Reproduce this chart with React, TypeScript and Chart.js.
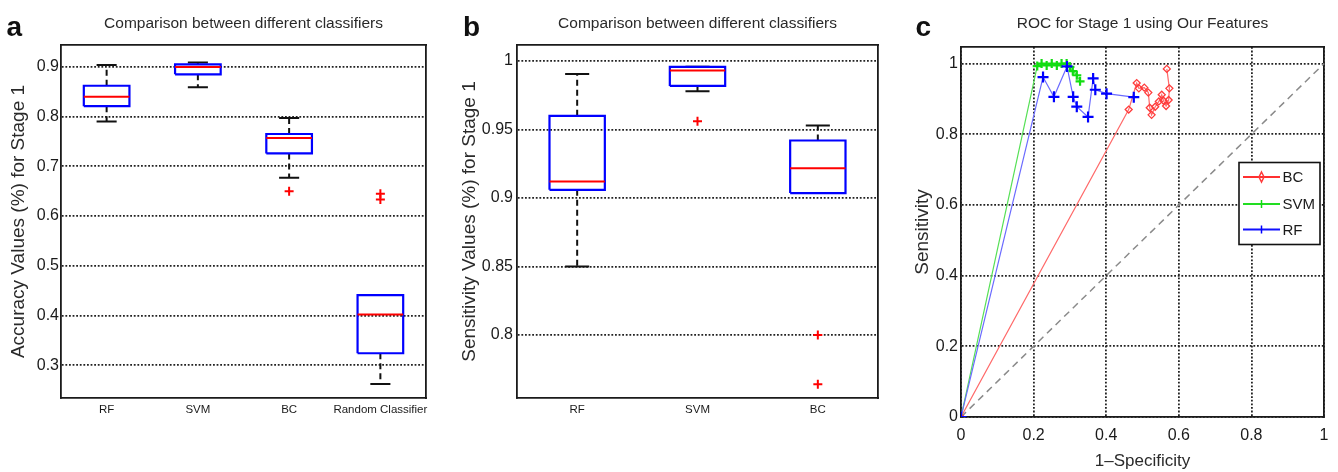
import React, { useEffect, useRef } from 'react';
import { Chart, registerables } from 'chart.js';
Chart.register(...registerables);

const FONT = "'Liberation Sans', Arial, Helvetica, sans-serif";
const TEXT = '#1a1a1a';
const FRAME = '#1a1a1a';
const GRID_DASH = [1.8, 1.8];

// ---------- Panel a : accuracy box plots ----------
const aCategories = ['RF', 'SVM', 'BC', 'Random Classifier'];
const aLow = [0.790, 0.859, 0.677, 0.262];
const aQ1 = [0.821, 0.885, 0.726, 0.324];
const aMedian = [0.840, 0.900, 0.757, 0.402];
const aQ3 = [0.862, 0.905, 0.765, 0.441];
const aHigh = [0.904, 0.909, 0.797, 0.441];
const aOutliers = [[], [], [0.650], [0.645, 0.633]];
const aYTicks = [0.3, 0.4, 0.5, 0.6, 0.7, 0.8, 0.9];

// ---------- Panel b : sensitivity box plots ----------
const bCategories = ['RF', 'SVM', 'BC'];
const bLow = [0.850, 0.978, 0.9036];
const bQ1 = [0.906, 0.9818, 0.9036];
const bMedian = [0.912, 0.993, 0.9217];
const bQ3 = [0.960, 0.9958, 0.942];
const bHigh = [0.9905, 0.9958, 0.953];
const bOutliers = [[], [0.956], [0.800, 0.764]];
const bYTicks = [0.8, 0.85, 0.9, 0.95, 1];

// ---------- Panel c : ROC curves ----------
const bcFpr = [0, 0.462, 0.484, 0.490, 0.505, 0.516, 0.520, 0.525, 0.535, 0.545, 0.553, 0.558, 0.565, 0.572, 0.574, 0.567];
const bcTpr = [0, 0.870, 0.945, 0.930, 0.932, 0.918, 0.875, 0.855, 0.878, 0.893, 0.912, 0.895, 0.880, 0.897, 0.930, 0.985];
const svmFpr = [0, 0.210, 0.222, 0.236, 0.250, 0.264, 0.277, 0.291, 0.300, 0.308, 0.319, 0.328];
const svmTpr = [0, 0.993, 1.0, 0.995, 1.0, 0.995, 1.0, 1.0, 0.991, 0.979, 0.967, 0.950];
const rfFpr = [0, 0.226, 0.256, 0.292, 0.309, 0.319, 0.350, 0.364, 0.370, 0.401, 0.476];
const rfTpr = [0, 0.962, 0.906, 0.992, 0.906, 0.878, 0.849, 0.958, 0.926, 0.915, 0.905];
const diagX = [0, 1];
const diagY = [0, 1];
const rocLabels = ['BC', 'SVM', 'RF'];
const cTicks = [0, 0.2, 0.4, 0.6, 0.8, 1];

type Pt = { x: number; y: number | null };

function boxDatasets(
  n: number, lo: number[], q1: number[], med: number[], q3: number[], hi: number[],
  outliers: number[][], boxHalf: number, capHalf: number
) {
  const whisk: Pt[] = [], caps: Pt[] = [], boxes: Pt[] = [], meds: Pt[] = [], outs: Pt[] = [];
  for (let i = 0; i < n; i++) {
    whisk.push({ x: i, y: q3[i] }, { x: i, y: hi[i] }, { x: i, y: null },
      { x: i, y: q1[i] }, { x: i, y: lo[i] }, { x: i, y: null });
    caps.push({ x: i - capHalf, y: hi[i] }, { x: i + capHalf, y: hi[i] }, { x: i, y: null },
      { x: i - capHalf, y: lo[i] }, { x: i + capHalf, y: lo[i] }, { x: i, y: null });
    boxes.push({ x: i - boxHalf, y: q1[i] }, { x: i + boxHalf, y: q1[i] }, { x: i + boxHalf, y: q3[i] },
      { x: i - boxHalf, y: q3[i] }, { x: i - boxHalf, y: q1[i] }, { x: i, y: null });
    meds.push({ x: i - boxHalf, y: med[i] }, { x: i + boxHalf, y: med[i] }, { x: i, y: null });
    outliers[i].forEach((v) => outs.push({ x: i, y: v }));
  }
  const line = { showLine: true, pointRadius: 0, pointHoverRadius: 0, fill: false };
  return [
    { ...line, data: outs, showLine: false, pointRadius: 4.5, pointStyle: 'cross', pointBorderColor: '#ff0000', pointBorderWidth: 2, borderColor: '#ff0000', order: 0 },
    { ...line, data: meds, borderColor: '#ff0000', borderWidth: 2, order: 1 },
    { ...line, data: boxes, borderColor: '#0000ff', borderWidth: 2.2, order: 2 },
    { ...line, data: caps, borderColor: '#111', borderWidth: 2, order: 3 },
    { ...line, data: whisk, borderColor: '#111', borderWidth: 2, borderDash: [6, 4], order: 4 },
  ];
}

const fmt = (v: number) => String(Math.round(Number(v) * 100) / 100);

function frameAxis(position: string, min: number, max: number, extra: any = {}) {
  return {
    type: 'linear', position, min, max, display: true,
    ticks: { display: false },
    grid: { display: false, drawTicks: false },
    border: { display: true, color: FRAME, width: 1.8 },
    ...extra,
  };
}

function boxConfig(opts: {
  cats: string[]; datasets: any[]; yMin: number; yMax: number; yTicks: number[];
  yTitle: string; title: string; yAxisWidth: number; padRight: number; yTitlePad: number; tickPad: number;
}) {
  const { cats, datasets, yMin, yMax, yTicks, yTitle, title, yAxisWidth, padRight, yTitlePad, tickPad } = opts;
  const xMin = -0.5, xMax = cats.length - 0.5;
  return {
    type: 'scatter',
    data: { datasets },
    options: {
      responsive: false, animation: false, events: [],
      layout: { padding: { left: 0, right: padRight, top: 0, bottom: 0 } },
      plugins: { legend: { display: false }, tooltip: { enabled: false }, title: { display: false } },
      scales: {
        x: {
          type: 'linear', position: 'bottom', min: xMin, max: xMax,
          afterBuildTicks: (s: any) => { s.ticks = cats.map((_, i) => ({ value: i })); },
          ticks: { autoSkip: false, maxRotation: 0, padding: 5, color: TEXT, font: { size: 11.5 },
            callback: (v: any) => cats[Math.round(Number(v))] ?? '' },
          grid: { display: false, drawTicks: false },
          border: { display: true, color: FRAME, width: 1.8 },
          afterFit: (s: any) => { s.height = 74; },
        },
        y: {
          type: 'linear', position: 'left', min: yMin, max: yMax,
          afterBuildTicks: (s: any) => { s.ticks = yTicks.map((v) => ({ value: v })); },
          ticks: { padding: tickPad, color: TEXT, font: { size: 16 }, callback: (v: any) => fmt(v) },
          grid: { color: '#222', lineWidth: 1.8, drawTicks: false },
          border: { display: true, color: FRAME, width: 1.8, dash: GRID_DASH },
          title: { display: true, text: yTitle, color: '#2a2a2a', font: { size: 19 }, padding: { top: yTitlePad, bottom: 0 } },
          afterFit: (s: any) => { s.width = yAxisWidth; },
        },
        xTop: frameAxis('top', xMin, xMax, {
          title: { display: true, text: title, color: '#2a2a2a', font: { size: 15.5 }, padding: { top: 14, bottom: 0 } },
          afterFit: (s: any) => { s.height = 45; },
        }),
        yRight: frameAxis('right', yMin, yMax, { afterFit: (s: any) => { s.width = 0; } }),
      },
    },
  };
}

const rocLegend = {
  id: 'rocLegend',
  afterDatasetsDraw(chart: any) {
    const { ctx, chartArea } = chart;
    const w = 81, h = 82;
    const left = chartArea.right - 4 - w;
    const top = chartArea.top + 115.5;
    const rows = [14.5, 41.5, 67];
    ctx.save();
    ctx.fillStyle = '#fff';
    ctx.fillRect(left, top, w, h);
    ctx.strokeStyle = '#111';
    ctx.lineWidth = 1.6;
    ctx.strokeRect(left, top, w, h);
    rocLabels.forEach((lab, k) => {
      const ds = chart.data.datasets.find((d: any) => d.label === lab);
      const yy = top + rows[k];
      const mx = left + 22.5;
      ctx.strokeStyle = ds.legendColor;
      ctx.lineWidth = 2;
      ctx.beginPath();
      ctx.moveTo(left + 4, yy);
      ctx.lineTo(left + 41, yy);
      ctx.stroke();
      ctx.strokeStyle = ds.pointBorderColor;
      ctx.lineWidth = 1.5;
      ctx.beginPath();
      if (ds.pointStyle === 'rectRot') {
        ctx.moveTo(mx, yy - 5); ctx.lineTo(mx + 2.5, yy); ctx.lineTo(mx, yy + 5); ctx.lineTo(mx - 2.5, yy); ctx.closePath();
      } else {
        ctx.moveTo(mx, yy - 4); ctx.lineTo(mx, yy + 4);
      }
      ctx.stroke();
      ctx.fillStyle = TEXT;
      ctx.font = `15px ${FONT}`;
      ctx.textBaseline = 'middle';
      ctx.textAlign = 'left';
      ctx.fillText(lab, left + 43.5, yy + 1);
    });
    ctx.restore();
  },
};

const toPts = (xs: number[], ys: number[]) => xs.map((x, i) => ({ x, y: ys[i] }));

function rocConfig() {
  const yMax = 1.047;
  return {
    type: 'scatter',
    data: {
      datasets: [
        { label: 'RF', data: toPts(rfFpr, rfTpr), showLine: true, borderColor: '#6b6bff', borderWidth: 1.2, legendColor: '#1010ff',
          pointStyle: 'cross', pointRadius: 5.5, pointBorderColor: '#0000ff', pointBorderWidth: 2.2, order: 1 },
        { label: 'SVM', data: toPts(svmFpr, svmTpr), showLine: true, borderColor: '#55e055', borderWidth: 1.2, legendColor: '#22dd22',
          pointStyle: 'cross', pointRadius: 4.5, pointBorderColor: '#11dd11', pointBorderWidth: 2.2, order: 2 },
        { label: 'BC', data: toPts(bcFpr, bcTpr), showLine: true, borderColor: '#ff6a6a', borderWidth: 1.2, legendColor: '#ff3030',
          pointStyle: 'rectRot', pointRadius: 3.5, pointBorderColor: '#ff3b3b', pointBackgroundColor: 'rgba(0,0,0,0)', pointBorderWidth: 1.3, order: 3 },
        { label: '', data: toPts(diagX, diagY), showLine: true, borderColor: '#8a8a8a', borderWidth: 1.5, borderDash: [7, 5],
          pointRadius: 0, order: 4 },
      ],
    },
    options: {
      responsive: false, animation: false, events: [],
      layout: { padding: { left: 0, right: 14, top: 0, bottom: 0 } },
      plugins: { legend: { display: false }, tooltip: { enabled: false } },
      scales: {
        x: {
          type: 'linear', position: 'bottom', min: 0, max: 1,
          afterBuildTicks: (s: any) => { s.ticks = cTicks.map((v) => ({ value: v })); },
          ticks: { padding: 8.5, color: TEXT, font: { size: 16 }, maxRotation: 0, autoSkip: false, callback: (v: any) => fmt(v) },
          grid: { color: '#222', lineWidth: 1.8, drawTicks: false },
          border: { display: true, color: FRAME, width: 1.8, dash: GRID_DASH },
          title: { display: true, text: '1–Specificity', color: '#2a2a2a', font: { size: 17 }, padding: { top: 0, bottom: 0 } },
          afterFit: (s: any) => { s.height = 55; },
        },
        y: {
          type: 'linear', position: 'left', min: 0, max: yMax,
          afterBuildTicks: (s: any) => { s.ticks = cTicks.map((v) => ({ value: v })); },
          ticks: { padding: 3, color: TEXT, font: { size: 16 }, callback: (v: any) => fmt(v) },
          grid: { color: '#222', lineWidth: 1.8, drawTicks: false },
          border: { display: true, color: FRAME, width: 1.8, dash: GRID_DASH },
          title: { display: true, text: 'Sensitivity', color: '#2a2a2a', font: { size: 19 }, padding: { top: 11.5, bottom: 0 } },
          afterFit: (s: any) => { s.width = 61; },
        },
        xTop: frameAxis('top', 0, 1, {
          title: { display: true, text: 'ROC for Stage 1 using Our Features', color: '#2a2a2a', font: { size: 15.5 }, padding: { top: 14.5, bottom: 0 } },
          afterFit: (s: any) => { s.height = 47; },
        }),
        yRight: frameAxis('right', 0, yMax, { afterFit: (s: any) => { s.width = 0; } }),
      },
    },
    plugins: [rocLegend],
  };
}

const letterStyle = (left: number): React.CSSProperties => ({
  position: 'absolute', left, top: 13, fontFamily: FONT, fontWeight: 'bold', fontSize: 28,
  lineHeight: '28px', color: '#111',
});

export default function App() {
  const ra = useRef<HTMLCanvasElement>(null);
  const rb = useRef<HTMLCanvasElement>(null);
  const rc = useRef<HTMLCanvasElement>(null);

  useEffect(() => {
    Chart.defaults.font.family = FONT;
    Chart.defaults.color = TEXT;
    const charts: Chart[] = [];
    charts.push(new Chart(ra.current!, boxConfig({
      cats: aCategories,
      datasets: boxDatasets(aCategories.length, aLow, aQ1, aMedian, aQ3, aHigh, aOutliers, 0.25, 0.11),
      yMin: 0.234, yMax: 0.944, yTicks: aYTicks,
      yTitle: 'Accuracy Values (%) for Stage 1', title: 'Comparison between different classifiers',
      yAxisWidth: 61, padRight: 24, yTitlePad: 7, tickPad: 2,
    }) as any));
    charts.push(new Chart(rb.current!, boxConfig({
      cats: bCategories,
      datasets: boxDatasets(bCategories.length, bLow, bQ1, bMedian, bQ3, bHigh, bOutliers, 0.23, 0.1),
      yMin: 0.754, yMax: 1.0117, yTicks: bYTicks,
      yTitle: 'Sensitivity Values (%) for Stage 1', title: 'Comparison between different classifiers',
      yAxisWidth: 67, padRight: 22, yTitlePad: 8, tickPad: 4,
    }) as any));
    charts.push(new Chart(rc.current!, rocConfig() as any));
    return () => charts.forEach((c) => c.destroy());
  }, []);

  return (
    <div style={{ position: 'absolute', left: 0, top: 0, width: 1338, height: 472, background: '#fff', overflow: 'hidden' }}>
      <canvas ref={ra} width={450} height={472} style={{ position: 'absolute', left: 0, top: 0 }} />
      <canvas ref={rb} width={450} height={472} style={{ position: 'absolute', left: 450, top: 0 }} />
      <canvas ref={rc} width={438} height={472} style={{ position: 'absolute', left: 900, top: 0 }} />
      <div style={letterStyle(6.5)}>a</div>
      <div style={letterStyle(463)}>b</div>
      <div style={letterStyle(915.5)}>c</div>
    </div>
  );
}
